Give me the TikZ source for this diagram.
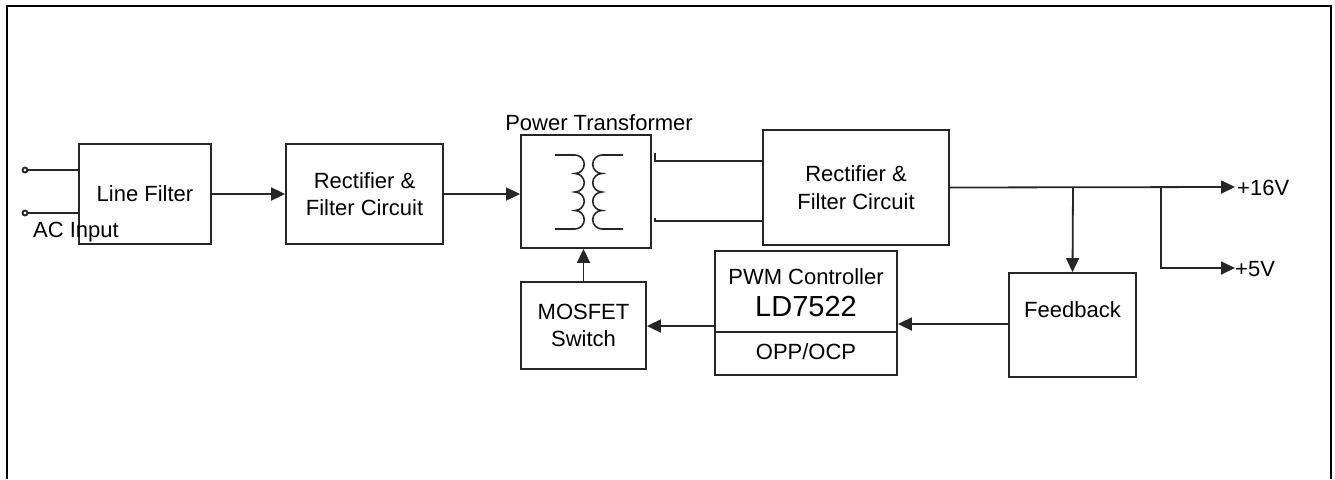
\documentclass[tikz,border=0pt]{standalone}
\usepackage{fontspec}
\setmainfont{Liberation Sans}
\usetikzlibrary{arrows.meta}
\begin{document}
\begin{tikzpicture}[x=1pt,y=1pt,
  ln/.style={line width=1.8pt,draw=black!85},
  blk/.style={ln,rectangle,inner sep=0pt,align=center,font=\fontsize{22}{27.5}\selectfont},
  lbl/.style={inner sep=0pt,font=\fontsize{22}{27.5}\selectfont},
  arr/.style={ln,-{Triangle[length=14pt,width=13pt]}}]
\useasboundingbox (0,0) rectangle (1335,-479);
% frame
\draw[line width=2pt] (7,-479) -- (7,-6) -- (1331,-6) -- (1331,-479);
% blocks
\node[blk,minimum width=132pt,minimum height=100pt] (lf) at (145,-194) {Line Filter};
\node[blk,minimum width=157pt,minimum height=100pt] (r1) at (364.5,-194) {Rectifier \&\\Filter Circuit};
\node[blk,minimum width=130pt,minimum height=113pt] (tr) at (586,-191.5) {};
\node[blk,minimum width=186pt,minimum height=115pt] (r2) at (856,-187.5) {Rectifier \&\\Filter Circuit};
\node[blk,minimum width=125pt,minimum height=87pt] (ms) at (583.5,-325.5) {MOSFET\\Switch};
\node[blk,minimum width=182pt,minimum height=124pt] (pwm) at (806,-313) {};
\node[blk,minimum width=127pt,minimum height=104pt] (fb) at (1072.5,-325) {};
% texts
\node[lbl] (trl) at (599,-123) {Power Transformer};
\node[lbl] (pwmt) at (806,-277) {PWM Controller};
\node[lbl,font=\fontsize{29}{31}\selectfont] (ld) at (806,-307) {LD7522};
\node[lbl] (opp) at (806,-352) {OPP/OCP};
\node[lbl] (fbt) at (1072.5,-310) {Feedback};
\node[lbl] (ac) at (76,-232) {AC Input};
% PWM divider
\coordinate (dv) at (806,-332);
\draw[ln] (dv -| pwm.west) -- (dv -| pwm.east);
% AC input terminals
\coordinate (in1) at (25,-170);
\coordinate (in2) at (25,-213);
\draw[ln] (in1) circle[radius=2.5pt] ++(2.5,0) -- (in1 -| lf.west);
\draw[ln] (in2) circle[radius=2.5pt] ++(2.5,0) -- (in2 -| lf.west);
% transformer coils
\draw[ln,line width=1.6pt] (555,-155) -- (575,-155)
  arc[start angle=90,end angle=-90,radius=9.25pt]
  arc[start angle=90,end angle=-90,radius=9.25pt]
  arc[start angle=90,end angle=-90,radius=9.25pt]
  arc[start angle=90,end angle=-90,radius=9.25pt] -- (555,-229);
\draw[ln,line width=1.6pt] (623,-155) -- (602,-155)
  arc[start angle=90,end angle=270,radius=9.25pt]
  arc[start angle=90,end angle=270,radius=9.25pt]
  arc[start angle=90,end angle=270,radius=9.25pt]
  arc[start angle=90,end angle=270,radius=9.25pt] -- (623,-229);
% connectors
\draw[arr] (lf.east) -- (r1.west);
\draw[arr] (r1.east) -- (r1.east -| tr.west);
\coordinate (t1) at (655,-161);
\coordinate (t2) at (655,-221);
\draw[ln] (655,-153) -- (t1) -- (t1 -| r2.west);
\draw[ln] (655,-218) -- (t2) -- (t2 -| r2.west);
\coordinate (o16) at (1235,-187);
\coordinate (o5) at (1235,-268);
\coordinate (bfb) at (1073,-187);
\coordinate (b5) at (1161,-187);
\draw[arr] (r2.east) -- (o16);
\node[lbl,anchor=west] (v16) at (1237,-188) {+16V};
\draw[arr] (bfb) -- (fb.north);
\draw[arr] (b5) |- (o5);
\node[lbl,anchor=west] (v5) at (1235,-269) {+5V};
\coordinate (fbo) at (1009,-324);
\draw[arr] (fbo) -- (fbo -| pwm.east);
\coordinate (pwo) at (715,-326);
\draw[arr] (pwo) -- (pwo -| ms.east);
\draw[arr] (ms.north) -- (ms.north |- tr.south);
\end{tikzpicture}
\end{document}
